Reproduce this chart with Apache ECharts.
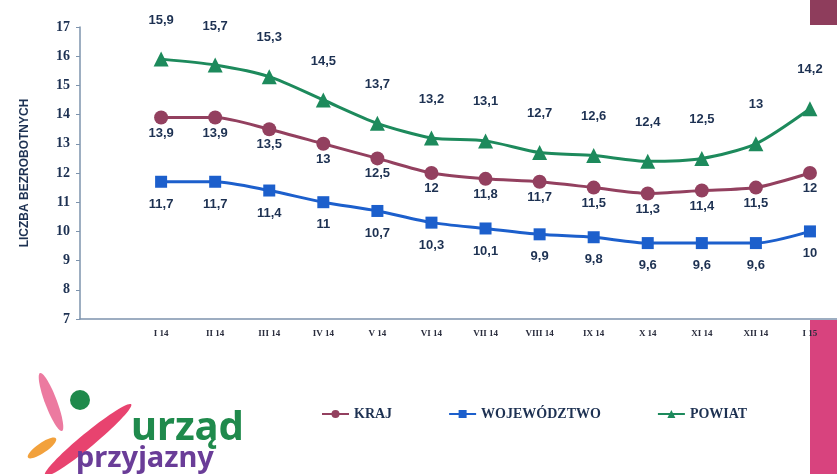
<!DOCTYPE html>
<html>
<head>
<meta charset="utf-8">
<script src="https://cdn.jsdelivr.net/npm/echarts@6/dist/echarts.min.js"></script>
<style>
    html, body {margin: 0; padding: 0; background: #fff;}
    #main {width: 837px; height: 474px;}
</style>
</head>
<body>
<div id="main"></div>
<script>
let months = ['I 14', 'II 14', 'III 14', 'IV 14', 'V 14', 'VI 14', 'VII 14', 'VIII 14', 'IX 14', 'X 14', 'XI 14', 'XII 14', 'I 15'];
let kraj = [13.9, 13.9, 13.5, 13, 12.5, 12, 11.8, 11.7, 11.5, 11.3, 11.4, 11.5, 12];
let wojewodztwo = [11.7, 11.7, 11.4, 11, 10.7, 10.3, 10.1, 9.9, 9.8, 9.6, 9.6, 9.6, 10];
let powiat = [15.9, 15.7, 15.3, 14.5, 13.7, 13.2, 13.1, 12.7, 12.6, 12.4, 12.5, 13, 14.2];

let myChart = echarts.init(document.getElementById('main'));

let navy = '#1d3152';
let serif = '"Liberation Serif", "DejaVu Serif", serif';
let sans = '"Liberation Sans", Arial, sans-serif';

// pusta kategoria na poczatku, zeby I 14 wypadlo 1,5 pasma od osi Y
let axisData = [''].concat(months);
let pad = (arr) => [null].concat(arr);

let fmt = (p) => String(p.value).replace('.', ',');

let makeSeries = (name, data, color, symbol, size, pos, dist) => {
    return {
        name: name,
        type: 'line',
        data: pad(data),
        smooth: 0.25,
        symbol: symbol,
        symbolSize: size,
        lineStyle: {color: color, width: 3},
        itemStyle: {color: color},
        label: {
            show: true,
            position: pos,
            distance: dist,
            color: navy,
            fontFamily: sans,
            fontWeight: 'bold',
            fontSize: 13,
            formatter: fmt
        }
    };
};

let petal = (x, y, rx, ry, rot, color) => {
    return {type: 'ellipse', x: x, y: y, rotation: rot, shape: {cx: 0, cy: 0, rx: rx, ry: ry}, style: {fill: color}};
};

let option = {
    animation: false,
    backgroundColor: '#fff',
    grid: {left: 80, right: -17, top: 27, bottom: 155},
    legend: {
        left: 316,
        top: 402,
        itemGap: 56,
        itemWidth: 27,
        itemHeight: 10,
        textStyle: {color: navy, fontFamily: serif, fontWeight: 'bold', fontSize: 14},
        data: ['KRAJ', 'WOJEWÓDZTWO', 'POWIAT']
    },
    xAxis: {
        type: 'category',
        data: axisData,
        boundaryGap: true,
        axisLine: {lineStyle: {color: '#7d93ad', width: 1.5}},
        axisTick: {show: false},
        axisLabel: {
            interval: 0,
            margin: 10,
            color: '#2a2d3d',
            fontFamily: serif,
            fontWeight: 'bold',
            fontSize: 9
        },
        z: 3
    },
    yAxis: {
        type: 'value',
        min: 7,
        max: 17,
        interval: 1,
        name: 'LICZBA BEZROBOTNYCH',
        nameLocation: 'middle',
        nameGap: 49,
        nameRotate: 90,
        nameTextStyle: {color: navy, fontFamily: sans, fontWeight: 'bold', fontSize: 12},
        axisLine: {show: true, lineStyle: {color: '#7d93ad', width: 1.5}},
        axisTick: {show: true, length: 4, lineStyle: {color: '#7d93ad'}},
        splitLine: {show: false},
        axisLabel: {
            margin: 10,
            color: navy,
            fontFamily: serif,
            fontWeight: 'bold',
            fontSize: 14
        }
    },
    graphic: [
        // pasek po prawej
        {type: 'rect', shape: {x: 810, y: 0, width: 27, height: 25}, style: {fill: '#8e3d5c'}, z: -1},
        {type: 'rect', shape: {x: 810, y: 320, width: 27, height: 154}, style: {fill: '#d8437e'}, z: -1},
        // logo
        petal(51, 402, 6, 31, 0.36, '#ec7aa0'),
        petal(88, 440, 7, 56, -0.88, '#e8436f'),
        petal(42, 448, 5, 17, -0.97, '#f2a13c'),
        {type: 'circle', shape: {cx: 80, cy: 400, r: 10}, style: {fill: '#1f8a4c'}},
        {type: 'text', left: 131, top: 409, style: {text: 'urząd', fill: '#1f8a4c', font: 'bold 40px "Noto Sans", sans-serif'}},
        {type: 'text', left: 76, top: 444, style: {text: 'przyjazny', fill: '#6a3d98', font: 'bold 29px "Noto Sans", sans-serif'}}
    ],
    series: [
        makeSeries('KRAJ', kraj, '#93405f', 'circle', 14, 'bottom', 2),
        makeSeries('WOJEWÓDZTWO', wojewodztwo, '#1c5fcc', 'rect', 12, 'bottom', 10),
        makeSeries('POWIAT', powiat, '#1d8a5c', 'triangle', 15, 'top', 25)
    ]
};

myChart.setOption(option);
</script>
</body>
</html>
